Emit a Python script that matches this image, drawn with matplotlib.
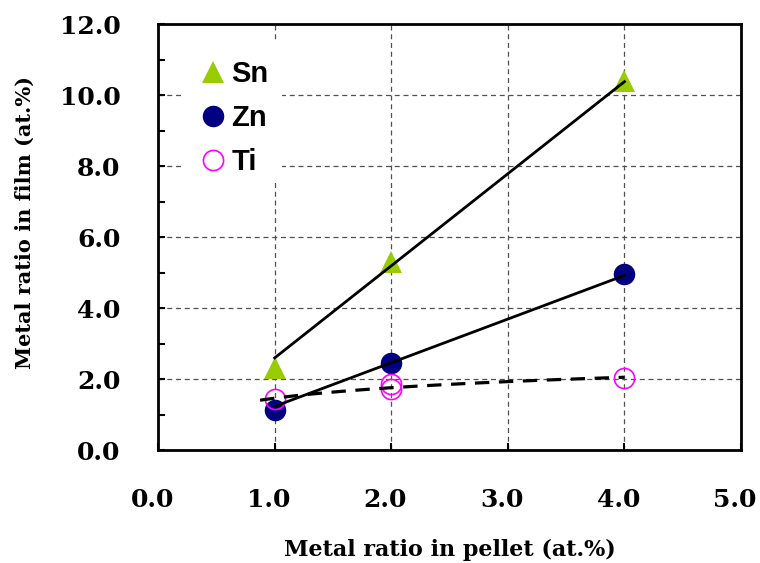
import numpy as np
import matplotlib
matplotlib.use("Agg")
import matplotlib.pyplot as plt
import matplotlib.transforms as mtransforms
from matplotlib.patches import Rectangle
from matplotlib.ticker import MultipleLocator, FormatStrFormatter

# Metal ratio in pellet (at.%)
sn_x = [1.0, 2.0, 4.0]
sn_y = [2.3, 5.3, 10.4]
zn_x = [1.0, 2.0, 4.0]
zn_y = [1.13, 2.45, 4.95]
ti_x = [1.0, 2.0, 2.0, 4.0]
ti_y = [1.43, 1.85, 1.72, 2.02]

x_ticks = [0.0, 1.0, 2.0, 3.0, 4.0, 5.0]
y_ticks = [0.0, 2.0, 4.0, 6.0, 8.0, 10.0, 12.0]

fig = plt.figure(figsize=(7.6, 5.63), dpi=100)
ax = fig.add_axes([0.208, 0.2007, 0.767, 0.7563])

serif = "DejaVu Serif"

# Trend lines: proportional fits for Sn and Zn, logarithmic fit for Ti
def prop_fit(x, y):
    x = np.asarray(x); y = np.asarray(y)
    return (x * y).sum() / (x * x).sum()

xs = np.linspace(1.0, 4.0, 50)
k_sn = prop_fit(sn_x, sn_y)
k_zn = prop_fit(zn_x, zn_y)
a_ti, b_ti = np.polyfit(np.log(ti_x), ti_y, 1)
xt = np.linspace(0.875, 4.0, 100)

ax.plot(xs, k_sn * xs, color="black", lw=2.0, zorder=5)
ax.plot(xs, k_zn * xs, color="black", lw=2.0, zorder=5)
ax.plot(xt, a_ti * np.log(xt) + b_ti, color="black", lw=2.3,
        linestyle=(0, (4.5, 3)), zorder=5)

ax.plot(sn_x, sn_y, linestyle="none", marker="^", markersize=16,
        color="#99cc00", markeredgewidth=0, label="Sn", zorder=3)
ax.plot(zn_x, zn_y, linestyle="none", marker="o", markersize=15.5,
        color="#000080", markeredgewidth=0, label="Zn", zorder=3)
ax.plot(ti_x, ti_y, linestyle="none", marker="o", markersize=14.5,
        markerfacecolor="none", markeredgecolor="#ff00ff",
        markeredgewidth=1.2, label="Ti", zorder=4)

ax.set_xlim(0, 5)
ax.set_ylim(0, 12)
ax.set_xticks(x_ticks)
ax.set_yticks(y_ticks)
ax.yaxis.set_minor_locator(MultipleLocator(1.0))
ax.xaxis.set_major_formatter(FormatStrFormatter("%.1f"))
ax.yaxis.set_major_formatter(FormatStrFormatter("%.1f"))

ax.grid(True, which="major", color="#505050", lw=0.9,
        linestyle=(0, (4, 3)), zorder=1)
ax.set_axisbelow(True)

ax.tick_params(axis="both", which="major", direction="in", length=5,
               width=1.5, pad=27, labelsize=18)
ax.tick_params(axis="y", which="minor", direction="in", length=5, width=1.5)
shift = mtransforms.ScaledTranslation(-6 / 100, 0, fig.dpi_scale_trans)
for lab in ax.get_xticklabels():
    lab.set_transform(lab.get_transform() + shift)
for lab in ax.get_xticklabels() + ax.get_yticklabels():
    lab.set_fontfamily(serif)
    lab.set_fontweight("bold")

for s in ax.spines.values():
    s.set_linewidth(2.0)
    s.set_color("black")
    s.set_zorder(6)

ax.set_xlabel("Metal ratio in pellet (at.%)", fontfamily=serif,
              fontweight="bold", fontsize=16)
ax.set_ylabel("Metal ratio in film (at.%)", fontfamily=serif,
              fontweight="bold", fontsize=15)
ax.xaxis.set_label_coords(0.5, -0.208)
ax.yaxis.set_label_coords(-0.211, 0.535)

# White legend area in the upper-left part of the plot
ax.add_patch(Rectangle((0.043, 0.627), 0.170, 0.335, transform=ax.transAxes,
                       facecolor="white", edgecolor="none", zorder=2))

leg = ax.legend(loc="upper left", bbox_to_anchor=(0.035, 0.963), frameon=False,
                prop={"family": "Liberation Sans", "weight": "bold", "size": 21},
                handlelength=1.0, handletextpad=0.12, labelspacing=0.55,
                borderaxespad=0.3, borderpad=0.4, markerscale=1.0)
leg.set_zorder(10)

fig.savefig("out.png", dpi=100)
